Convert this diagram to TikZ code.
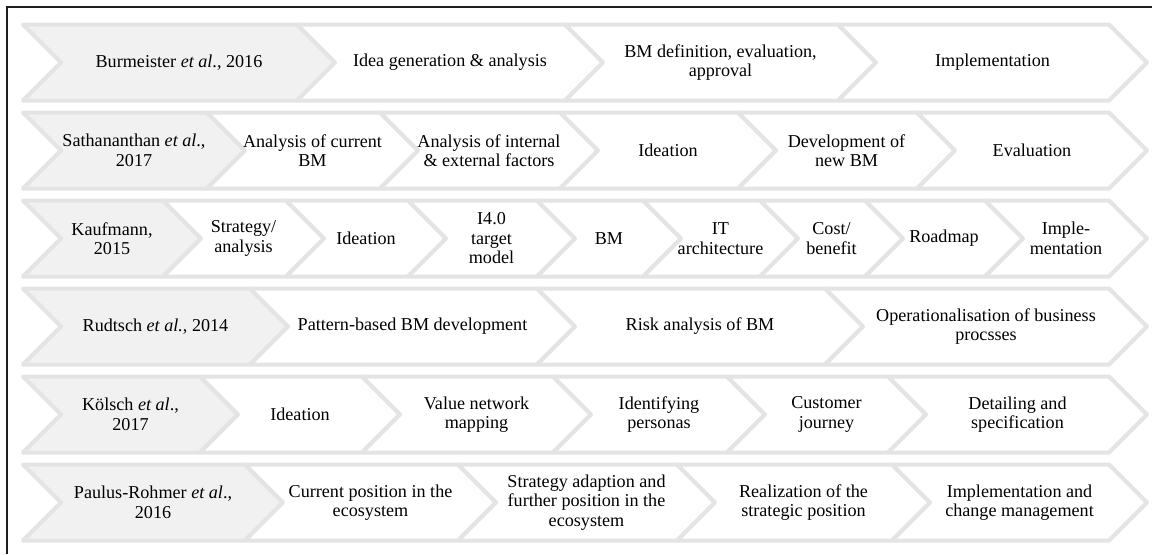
\documentclass[tikz,border=0pt]{standalone}
\usepackage{fontspec}
\setmainfont{Liberation Serif}
\definecolor{chevline}{HTML}{E4E4E4}
\definecolor{headfill}{HTML}{F1F1F1}
\definecolor{framecol}{HTML}{1E1E1E}
\tikzset{
  chev/.style={draw=chevline, line width=3pt, line join=round},
  lbl/.style={align=center, inner sep=0pt, font=\fontsize{13.6}{14.6}\selectfont},
}
% one band of chevrons: #1 row name, #2 centre line, #3 list of right corners/labels
\newcommand\chevronband[3]{%
  \foreach \xr/\txt [count=\i, remember=\xr as \xl (initially 23)] in {#3} {
    \ifnum\i=1 \def\chevfill{headfill}\else\def\chevfill{white}\fi
    \path[chev, fill=\chevfill]
      (\xl,#2-38) -- (\xr,#2-38) -- (\xr+38,#2) -- (\xr,#2+38)
      -- (\xl,#2+38) -- (\xl+38,#2) -- cycle;
    \node[lbl] (#1c\i) at ({(\xl+\xr+38)/2},#2) {\txt};
  }%
}
\begin{document}
\begin{tikzpicture}[x=0.75pt,y=-0.75pt]
\useasboundingbox (0,0) rectangle (1152,554);
\fill[white] (0,0) rectangle (1152,554);
% outer frame (left and top edges)
\coordinate (frameBL) at (7,554);
\coordinate (frameTL) at (7,7);
\coordinate (frameTR) at (1152,7);
\draw[framecol, line width=1.4pt] (frameBL) -- (frameTL) -- (frameTR);

\chevronband{ra}{62.5}{
  297/{Burmeister \textit{et al}., 2016},
  565/{Idea generation \& analysis},
  838/{BM definition, evaluation,\\approval},
  1109/{Implementation}}

\chevronband{rb}{150.5}{
  207/{Sathananthan \textit{et al}.,\\2017},
  380/{Analysis of current\\BM},
  560/{Analysis of internal\\\& external factors},
  738/{Ideation},
  917/{Development of\\new BM},
  1109/{Evaluation}}

\chevronband{rc}{238.5}{
  163/{Kaufmann,\\2015},
  286/{Strategy/\\analysis},
  408/{Ideation},
  537/{I4.0\\target\\model},
  643/{BM},
  760/{IT\\architecture},
  865/{Cost/\\benefit},
  985/{Roadmap},
  1109/{Imple-\\mentation}}

\chevronband{rd}{326.5}{
  250/{Rudtsch \textit{et al.}, 2014},
  537/{Pattern-based BM development},
  825/{Risk analysis of BM},
  1109/{Operationalisation of business\\procsses}}

\chevronband{re}{414.5}{
  200/{Kölsch \textit{et al}.,\\2017},
  362/{Ideation},
  553/{Value network\\mapping},
  727/{Identifying\\personas},
  888/{Customer\\journey},
  1109/{Detailing and\\specification}}

\chevronband{rf}{502.5}{
  245/{Paulus-Rohmer \textit{et al}.,\\2016},
  458/{Current position in the\\ecosystem},
  677/{Strategy adaption and\\further position in the\\ecosystem},
  892/{Realization of the\\strategic position},
  1109/{Implementation and\\change management}}
\end{tikzpicture}
\end{document}
